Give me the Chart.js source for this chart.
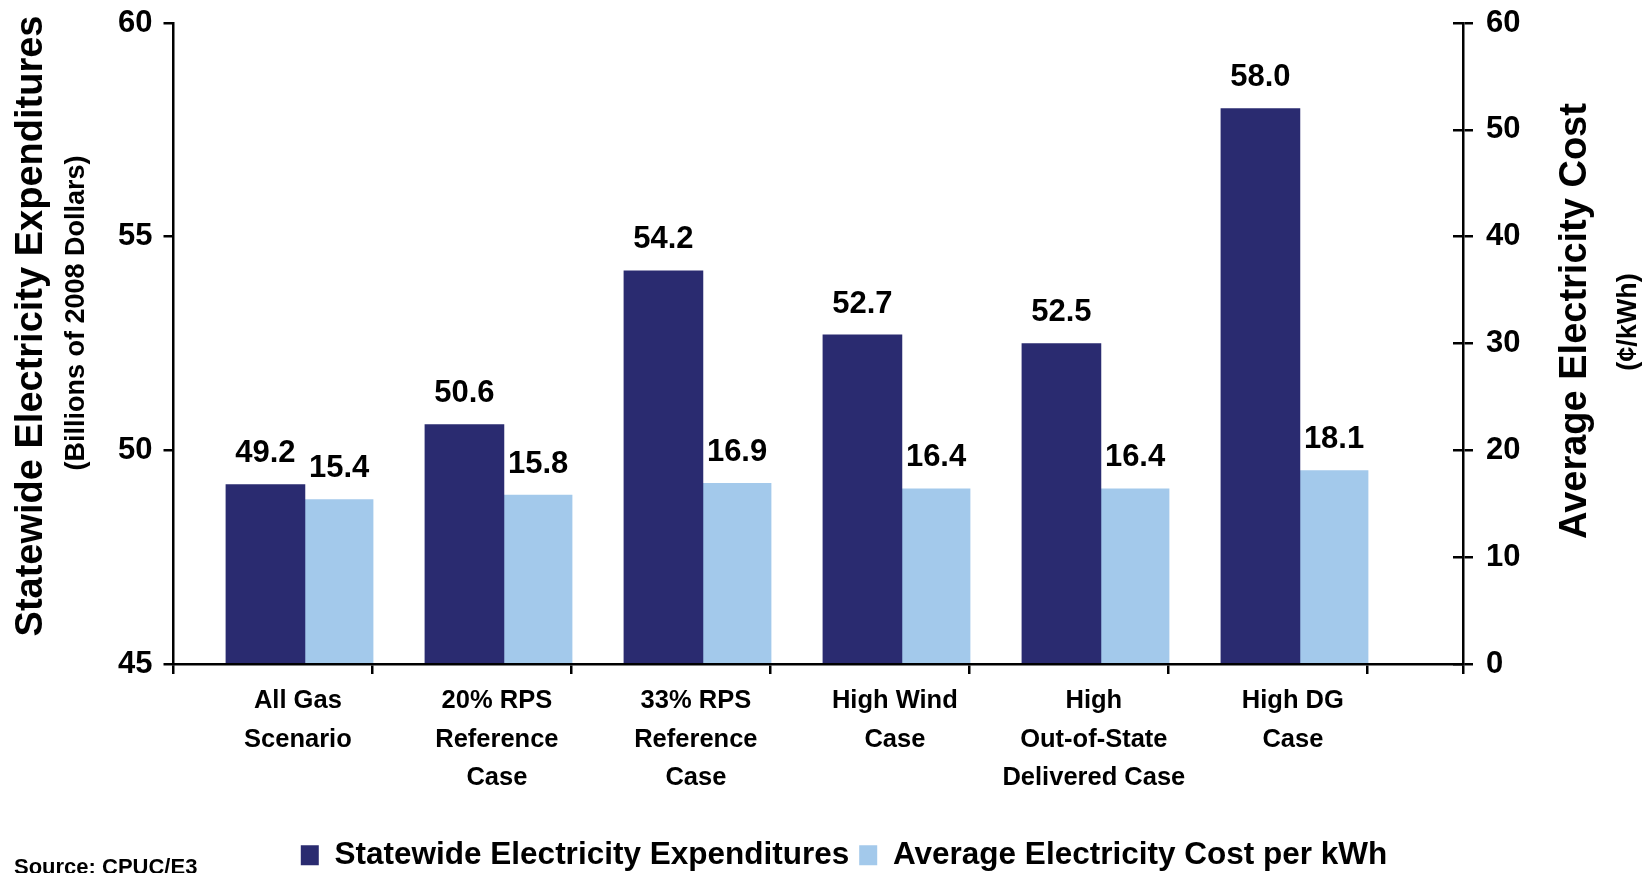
<!DOCTYPE html>
<html>
<head>
<meta charset="utf-8">
<script src="https://cdn.jsdelivr.net/npm/chart.js@4.4.1/dist/chart.umd.min.js"></script>
<style>
  html, body { margin: 0; padding: 0; background: #ffffff; }
  #wrap { width: 1650px; height: 873px; position: relative; }
</style>
</head>
<body>
<div id="wrap"><canvas id="chart" width="1650" height="873"></canvas></div>
<script>
// ---- data ----
const CATEGORIES = [
  ['All Gas', 'Scenario'],
  ['20% RPS', 'Reference', 'Case'],
  ['33% RPS', 'Reference', 'Case'],
  ['High Wind', 'Case'],
  ['High', 'Out-of-State', 'Delivered Case'],
  ['High DG', 'Case']
];
const SERIES_NAMES = ['Statewide Electricity Expenditures', 'Average Electricity Cost per kWh'];
const EXPENDITURES = [49.2, 50.6, 54.2, 52.7, 52.5, 58.0];   // billions of 2008 dollars
const COST_PER_KWH = [15.4, 15.8, 16.9, 16.4, 16.4, 18.1];   // cents per kWh
const LEFT_TICKS = [45, 50, 55, 60];
const RIGHT_TICKS = [0, 10, 20, 30, 40, 50, 60];

// ---- styling / layout ----
const FONT = "'Liberation Sans', Arial, Helvetica, sans-serif";
const NAVY = '#2A2B70';
const SKY = '#A3C9EB';
const X_MAX = 6.48;        // six scenario slots plus a margin before the right axis
const DARK_POS = 0.462;    // bar centres inside a slot (slot = 1 unit)
const LIGHT_POS = 0.832;
const LABEL_POS = 0.625;
const DARK_WIDTH = 79;
const LIGHT_WIDTH = 68;

const isLabelTick = v => {
  const f = v - Math.floor(v);
  return Math.abs(f - LABEL_POS) < 1e-6;
};

function rotatedText(ctx, text, x, y, size) {
  ctx.save();
  ctx.translate(x, y);
  ctx.rotate(-Math.PI / 2);
  ctx.font = `bold ${size}px ${FONT}`;
  ctx.fillStyle = '#000';
  ctx.textAlign = 'center';
  ctx.textBaseline = 'middle';
  ctx.fillText(text, 0, 0);
  ctx.restore();
}

const valueLabels = {
  id: 'valueLabels',
  afterDatasetsDraw(chart) {
    const ctx = chart.ctx;
    ctx.save();
    ctx.font = `bold 31px ${FONT}`;
    ctx.fillStyle = '#000';
    ctx.textAlign = 'center';
    ctx.textBaseline = 'middle';
    chart.data.datasets.forEach((ds, i) => {
      const meta = chart.getDatasetMeta(i);
      meta.data.forEach((bar, j) => {
        ctx.fillText(ds.data[j].y.toFixed(1), bar.x, bar.y - 31);
      });
    });
    ctx.restore();
  }
};

const axisTitles = {
  id: 'axisTitles',
  afterDraw(chart) {
    const ctx = chart.ctx;
    const l = chart.scales.yL, r = chart.scales.yR;
    rotatedText(ctx, 'Statewide Electricity Expenditures', l.left + 32, 326, 38);
    rotatedText(ctx, '(Billions of 2008 Dollars)', l.left + 77, 313, 27);
    rotatedText(ctx, 'Average Electricity Cost', r.left + 113, 321, 38);
    rotatedText(ctx, '(\u00A2/kWh)', r.left + 166, 322, 27);
    ctx.save();
    ctx.font = `bold 22px ${FONT}`;
    ctx.fillStyle = '#000';
    ctx.textAlign = 'left';
    ctx.textBaseline = 'middle';
    ctx.fillText('Source: CPUC/E3', 14, 868);
    ctx.restore();
  }
};

const legendNudge = {
  id: 'legendNudge',
  afterLayout(chart) {
    const lg = chart.legend;
    if (!lg) return;
    lg.left += 19; lg.right += 19;
    lg.top += 8; lg.bottom += 8;
  }
};

// small line height keeps the top/bottom tick labels from pushing the plot area inward
const tickFont = { family: FONT, size: 31, weight: 'bold', lineHeight: 0.6 };

new Chart(document.getElementById('chart'), {
  type: 'bar',
  data: {
    datasets: [
      {
        label: SERIES_NAMES[0],
        data: EXPENDITURES.map((v, i) => ({ x: i + DARK_POS, y: v })),
        backgroundColor: NAVY,
        borderWidth: 0,
        grouped: false,
        barThickness: DARK_WIDTH,
        base: LEFT_TICKS[0],
        xAxisID: 'x',
        yAxisID: 'yL'
      },
      {
        label: SERIES_NAMES[1],
        data: COST_PER_KWH.map((v, i) => ({ x: i + LIGHT_POS, y: v })),
        backgroundColor: SKY,
        borderWidth: 0,
        grouped: false,
        barThickness: LIGHT_WIDTH,
        xAxisID: 'x',
        yAxisID: 'yR'
      }
    ]
  },
  options: {
    responsive: false,
    animation: false,
    devicePixelRatio: 1,
    layout: { padding: { top: 23, left: 0, right: 0, bottom: 0 } },
    plugins: {
      legend: {
        position: 'bottom',
        labels: {
          font: { family: FONT, size: 31.5, weight: 'bold' },
          color: '#000',
          boxWidth: 18,
          boxHeight: 20,
          padding: 10
        }
      },
      tooltip: { enabled: false }
    },
    scales: {
      x: {
        type: 'linear',
        position: 'bottom',
        min: 0,
        max: X_MAX,
        offset: false,
        afterBuildTicks(scale) {
          const ticks = [];
          for (let i = 0; i <= CATEGORIES.length; i++) ticks.push({ value: i });
          CATEGORIES.forEach((_, i) => ticks.push({ value: i + LABEL_POS }));
          ticks.push({ value: X_MAX });
          ticks.sort((a, b) => a.value - b.value);
          scale.ticks = ticks;
        },
        afterFit(scale) { scale.height = 157.5; },
        grid: {
          offset: false,
          drawOnChartArea: false,
          drawTicks: true,
          tickLength: 10,
          lineWidth: 2.5,
          color: ctx => (ctx.tick && isLabelTick(ctx.tick.value)) ? 'rgba(0,0,0,0)' : '#000'
        },
        border: { display: true, color: '#000', width: 2.5 },
        ticks: {
          autoSkip: false,
          maxRotation: 0,
          minRotation: 0,
          padding: 8,
          color: '#000',
          font: { family: FONT, size: 25.5, weight: 'bold', lineHeight: 1.51 },
          callback: value => isLabelTick(value) ? CATEGORIES[Math.floor(value)] : ''
        }
      },
      yL: {
        type: 'linear',
        position: 'left',
        min: LEFT_TICKS[0],
        max: LEFT_TICKS[LEFT_TICKS.length - 1],
        afterBuildTicks(scale) { scale.ticks = LEFT_TICKS.map(v => ({ value: v })); },
        afterFit(scale) { scale.width = 173.5; },
        grid: { drawOnChartArea: false, drawTicks: true, tickLength: 10, lineWidth: 2.5, color: '#000' },
        border: { display: true, color: '#000', width: 2.5 },
        ticks: { padding: 11, color: '#000', font: tickFont }
      },
      yR: {
        type: 'linear',
        position: 'right',
        min: RIGHT_TICKS[0],
        max: RIGHT_TICKS[RIGHT_TICKS.length - 1],
        afterBuildTicks(scale) { scale.ticks = RIGHT_TICKS.map(v => ({ value: v })); },
        afterFit(scale) { scale.width = 187; },
        grid: { drawOnChartArea: false, drawTicks: true, tickLength: 10, lineWidth: 2.5, color: '#000' },
        border: { display: true, color: '#000', width: 2.5 },
        ticks: { padding: 13, color: '#000', font: tickFont }
      },
      // inner half of the crossing tick marks on the right axis
      yRin: {
        type: 'linear',
        axis: 'y',
        position: { x: X_MAX },
        min: RIGHT_TICKS[0],
        max: RIGHT_TICKS[RIGHT_TICKS.length - 1],
        afterBuildTicks(scale) { scale.ticks = RIGHT_TICKS.map(v => ({ value: v })); },
        grid: { drawOnChartArea: false, drawTicks: true, tickLength: 10, lineWidth: 2.5, color: '#000' },
        border: { display: false },
        ticks: { display: false }
      }
    }
  },
  plugins: [valueLabels, axisTitles, legendNudge]
});
</script>
</body>
</html>
